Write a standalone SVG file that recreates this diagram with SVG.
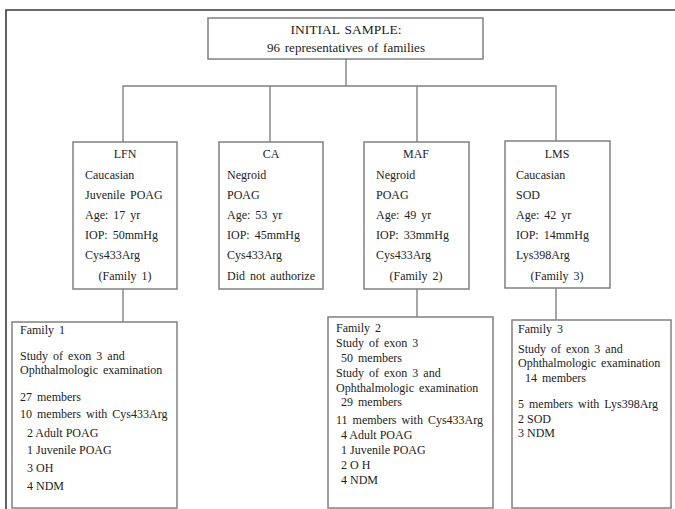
<svg xmlns="http://www.w3.org/2000/svg" width="675" height="509" viewBox="0 0 675 509">
<style>
  .frame{fill:none;stroke:#3a3a3a;stroke-width:1.6}
  .box{fill:#fff;stroke:#808080;stroke-width:1.5}
  .conn{fill:none;stroke:#808080;stroke-width:1.4}
  text{font-family:"Liberation Serif","Times New Roman",serif;fill:#222;font-size:12px;word-spacing:2px}
  .top{font-size:13px;word-spacing:1.5px}
  .title{font-size:13.5px}
  .c{text-anchor:middle}
  .tight{word-spacing:0px}
</style>
<rect width="675" height="509" fill="#fff"/>
<path class="frame" d="M6,509 V10 H680"/>

<g id="connectors">
  <path class="conn" d="M346,59 V86"/>
  <path class="conn" d="M123,142 V86 H556 V141"/>
  <path class="conn" d="M270,86 V142"/>
  <path class="conn" d="M417,86 V142"/>
  <path class="conn" d="M123,289 V322"/>
  <path class="conn" d="M417,289 V317"/>
  <path class="conn" d="M556,288 V320"/>
</g>

<g id="initial">
  <rect class="box" x="208" y="18" width="275" height="41"/>
  <text class="top title c" x="346" y="34">INITIAL SAMPLE:</text>
  <text class="top c" x="346" y="52">96 representatives of families</text>
</g>

<g id="lfn">
  <rect class="box" x="73" y="142" width="104" height="147"/>
  <text class="c" x="125" y="158">LFN</text>
  <text x="85" y="179">Caucasian</text>
  <text x="85" y="199">Juvenile POAG</text>
  <text x="85" y="219">Age: 17 yr</text>
  <text x="85" y="239">IOP: 50mmHg</text>
  <text x="85" y="259">Cys433Arg</text>
  <text class="c" x="125" y="280">(Family 1)</text>
</g>

<g id="ca">
  <rect class="box" x="219" y="142" width="104" height="147"/>
  <text class="c" x="271" y="158">CA</text>
  <text x="227" y="179">Negroid</text>
  <text x="227" y="199">POAG</text>
  <text x="227" y="219">Age: 53 yr</text>
  <text x="227" y="239">IOP: 45mmHg</text>
  <text x="227" y="259">Cys433Arg</text>
  <text x="227" y="280">Did not authorize</text>
</g>

<g id="maf">
  <rect class="box" x="364" y="142" width="105" height="147"/>
  <text class="c" x="416" y="158">MAF</text>
  <text x="376" y="179">Negroid</text>
  <text x="376" y="199">POAG</text>
  <text x="376" y="219">Age: 49 yr</text>
  <text x="376" y="239">IOP: 33mmHg</text>
  <text x="376" y="259">Cys433Arg</text>
  <text class="c" x="416" y="280">(Family 2)</text>
</g>

<g id="lms">
  <rect class="box" x="505" y="141" width="105" height="147"/>
  <text class="c" x="557" y="158">LMS</text>
  <text x="516" y="179">Caucasian</text>
  <text x="516" y="199">SOD</text>
  <text x="516" y="219">Age: 42 yr</text>
  <text x="516" y="239">IOP: 14mmHg</text>
  <text x="516" y="259">Lys398Arg</text>
  <text class="c" x="557" y="280">(Family 3)</text>
</g>

<g id="family1">
  <rect class="box" x="12" y="322" width="165" height="186"/>
  <text x="20" y="334">Family 1</text>
  <text x="20" y="360">Study of exon 3 and</text>
  <text x="20" y="374">Ophthalmologic examination</text>
  <text x="20" y="401">27 members</text>
  <text x="20" y="418">10 members with Cys433Arg</text>
  <text class="tight" x="27" y="437">2 Adult POAG</text>
  <text class="tight" x="27" y="454">1 Juvenile POAG</text>
  <text class="tight" x="27" y="472">3 OH</text>
  <text class="tight" x="27" y="490">4 NDM</text>
</g>

<g id="family2">
  <rect class="box" x="328" y="317" width="165" height="191"/>
  <text x="336" y="332">Family 2</text>
  <text x="336" y="347">Study of exon 3</text>
  <text x="341" y="362">50 members</text>
  <text x="336" y="377">Study of exon 3 and</text>
  <text x="336" y="392">Ophthalmologic examination</text>
  <text x="341" y="406">29 members</text>
  <text x="336" y="424">11 members with Cys433Arg</text>
  <text class="tight" x="341" y="439">4 Adult POAG</text>
  <text class="tight" x="341" y="454">1 Juvenile POAG</text>
  <text class="tight" x="341" y="469">2 O H</text>
  <text class="tight" x="341" y="484">4 NDM</text>
</g>

<g id="family3">
  <rect class="box" x="512" y="320" width="159" height="188"/>
  <text x="518" y="333">Family 3</text>
  <text x="518" y="353">Study of exon 3 and</text>
  <text x="518" y="367">Ophthalmologic examination</text>
  <text x="525" y="382">14 members</text>
  <text x="518" y="408">5 members with Lys398Arg</text>
  <text class="tight" x="518" y="423">2 SOD</text>
  <text class="tight" x="518" y="437">3 NDM</text>
</g>
</svg>
